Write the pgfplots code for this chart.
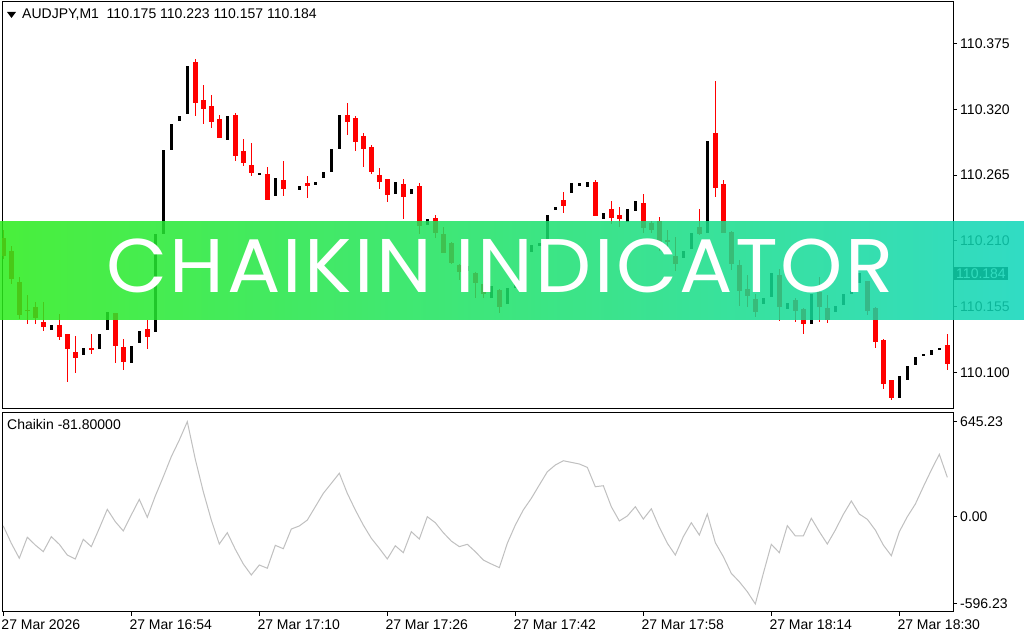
\documentclass[border=0pt]{standalone}
\usepackage{fontspec}
\setmainfont{Liberation Sans}
\newfontfamily\bannerfont[LetterSpace=3.0]{Poppins}
\usepackage{pgfplots}
\usepackage{pgfplotstable}
\pgfplotsset{compat=1.18}
\definecolor{bannerL}{RGB}{42,237,26}
\definecolor{bannerR}{RGB}{14,214,186}
\definecolor{chk}{RGB}{192,192,192}
\definecolor{mtred}{RGB}{255,0,0}

% bearish candles: index open high low close
\pgfplotstableread{
i o h l c
0 110.213 110.220 110.196 110.198
1 110.202 110.207 110.175 110.179
2 110.177 110.181 110.146 110.150
3 110.153 110.166 110.142 110.152
4 110.155 110.160 110.142 110.146
5 110.142 110.160 110.136 110.138
7 110.140 110.150 110.128 110.130
8 110.132 110.132 110.092 110.120
9 110.118 110.132 110.101 110.113
11 110.121 110.133 110.116 110.119
14 110.150 110.150 110.108 110.123
15 110.123 110.129 110.103 110.110
18 110.138 110.145 110.121 110.131
24 110.360 110.362 110.315 110.326
25 110.328 110.342 110.309 110.321
26 110.324 110.332 110.304 110.311
27 110.313 110.316 110.297 110.297
29 110.317 110.317 110.277 110.282
30 110.285 110.296 110.273 110.275
31 110.274 110.293 110.266 110.268
33 110.267 110.273 110.245 110.245
35 110.261 110.276 110.247 110.253
38 110.258 110.266 110.247 110.256
43 110.316 110.326 110.299 110.310
44 110.313 110.315 110.286 110.293
45 110.298 110.301 110.273 110.287
46 110.289 110.291 110.266 110.268
47 110.266 110.271 110.253 110.260
48 110.262 110.262 110.243 110.249
50 110.259 110.263 110.229 110.248
52 110.256 110.260 110.217 110.223
54 110.230 110.232 110.213 110.218
55 110.217 110.222 110.201 110.201
56 110.209 110.210 110.191 110.193
57 110.191 110.191 110.177 110.185
59 110.184 110.184 110.162 110.175
60 110.175 110.182 110.162 110.167
62 110.170 110.170 110.150 110.156
70 110.245 110.251 110.233 110.240
74 110.260 110.261 110.232 110.232
76 110.238 110.245 110.226 110.230
77 110.232 110.239 110.222 110.228
80 110.243 110.250 110.217 110.222
81 110.226 110.228 110.218 110.220
82 110.227 110.230 110.202 110.205
83 110.212 110.220 110.202 110.210
84 110.199 110.213 110.185 110.192
87 110.223 110.238 110.216 110.217
89 110.300 110.344 110.247 110.254
90 110.258 110.261 110.217 110.217
91 110.218 110.220 110.187 110.191
92 110.191 110.194 110.156 110.170
93 110.170 110.183 110.156 110.164
94 110.163 110.167 110.148 110.152
97 110.182 110.187 110.144 110.155
99 110.161 110.163 110.143 110.152
100 110.155 110.155 110.133 110.142
102 110.167 110.180 110.142 110.155
103 110.155 110.166 110.143 110.145
108 110.177 110.177 110.149 110.152
109 110.154 110.156 110.122 110.126
110 110.128 110.129 110.087 110.091
111 110.094 110.094 110.078 110.079
118 110.124 110.132 110.102 110.108
}\redc

% bullish candles: index open close
\pgfplotstableread{
i o c
6 110.136 110.140
10 110.116 110.122
12 110.120 110.132
13 110.135 110.150
16 110.109 110.123
17 110.126 110.136
19 110.134 110.216
20 110.217 110.287
21 110.286 110.308
22 110.310 110.314
23 110.317 110.357
28 110.295 110.315
32 110.266 110.268
34 110.248 110.263
37 110.253 110.256
39 110.258 110.261
40 110.263 110.268
41 110.268 110.287
42 110.287 110.316
49 110.249 110.259
51 110.250 110.254
53 110.225 110.230
58 110.186 110.190
61 110.162 110.172
63 110.157 110.171
64 110.172 110.176
65 110.177 110.201
66 110.201 110.207
67 110.206 110.209
68 110.213 110.233
69 110.236 110.239
71 110.250 110.258
72 110.257 110.259
73 110.256 110.260
75 110.230 110.235
78 110.227 110.238
79 110.236 110.244
85 110.197 110.203
86 110.204 110.218
88 110.218 110.295
95 110.157 110.162
96 110.163 110.183
98 110.155 110.160
101 110.141 110.166
104 110.152 110.157
105 110.157 110.166
106 110.166 110.169
107 110.175 110.184
112 110.079 110.097
113 110.095 110.107
114 110.107 110.114
115 110.116 110.117
116 110.116 110.120
117 110.120 110.121
}\blackc

\begin{document}
\begin{tikzpicture}[x=1bp,y=1bp]
\useasboundingbox (0,0) rectangle (1024,640);
\fill[white] (0,0) rectangle (1024,640);

% ---------- price panel ----------
\begin{axis}[
  at={(2bp,231bp)}, anchor=south west, scale only axis,
  width=951bp, height=407bp,
  xmin=-0.1625, xmax=118.71, ymin=110.0697, ymax=110.4095,
  axis line style={black, line width=1bp},
  xtick=\empty,
  ytick={110.100,110.155,110.210,110.265,110.320,110.375},
  yticklabels={110.100,110.155,110.210,110.265,110.320,110.375},
  ytick pos=right, yticklabel pos=right,
  tick align=outside, major tick length=4bp,
  tick style={black, line width=1bp},
  yticklabel style={font=\fontsize{14bp}{16bp}\selectfont, anchor=west, inner sep=0pt, xshift=3bp},
  clip mode=individual,
]
\addplot[draw=none, mark=none, forget plot,
  error bars/.cd, y dir=both, y explicit, error mark=none,
  error bar style={draw=mtred, line width=1bp}]
  table[x=i, y expr={(\thisrow{h}+\thisrow{l})/2}, y error expr={(\thisrow{h}-\thisrow{l})/2}] {\redc};
\addplot[draw=none, mark=none, forget plot,
  error bars/.cd, y dir=both, y explicit, error mark=none,
  error bar style={draw=mtred, line width=5bp}]
  table[x=i, y expr={(\thisrow{o}+\thisrow{c})/2}, y error expr={(\thisrow{o}-\thisrow{c})/2}] {\redc};
\addplot[draw=none, mark=none, forget plot,
  error bars/.cd, y dir=both, y explicit, error mark=none,
  error bar style={draw=black, line width=3bp}]
  table[x=i, y expr={(\thisrow{o}+\thisrow{c})/2}, y error expr={(\thisrow{c}-\thisrow{o})/2}] {\blackc};
\node[fill=black, text=white, anchor=west, inner xsep=2bp, inner ysep=1.5bp,
  font=\fontsize{14bp}{16bp}\selectfont]
  at ({rel axis cs:1,0} |- {axis cs:0,110.183}) [xshift=1bp] {110.184};
\end{axis}

% ---------- Chaikin panel ----------
\begin{axis}[
  at={(2bp,28bp)}, anchor=south west, scale only axis,
  width=951bp, height=200bp,
  xmin=-0.1625, xmax=118.71, ymin=-651, ymax=711,
  axis line style={black, line width=1bp},
  xtick={0,16,32,48,64,80,96,112},
  xticklabels={27 Mar 2026,27 Mar 16:54,27 Mar 17:10,27 Mar 17:26,27 Mar 17:42,27 Mar 17:58,27 Mar 18:14,27 Mar 18:30},
  xtick pos=bottom, xticklabel pos=bottom,
  xticklabel style={font=\fontsize{14bp}{16bp}\selectfont, anchor=north west, inner sep=0pt, xshift=-2bp, yshift=-4bp},
  ytick={-596.23,0,645.23},
  yticklabels={-596.23,0.00,645.23},
  ytick pos=right, yticklabel pos=right,
  tick align=outside, major tick length=4bp,
  tick style={black, line width=1bp},
  yticklabel style={font=\fontsize{14bp}{16bp}\selectfont, anchor=west, inner sep=0pt, xshift=3bp},
  clip mode=individual,
]
\addplot[chk, line width=1bp, mark=none] coordinates {
(0,-65) (1,-183) (2,-285) (3,-142) (4,-195) (5,-240) (6,-138) (7,-190) (8,-263) (9,-290)
(10,-156) (11,-206) (12,-81) (13,48) (14,-36) (15,-99) (16,10) (17,116) (18,-6) (19,139)
(20,270) (21,407) (22,520) (23,645.23) (24,389) (25,168) (26,-25) (27,-188) (28,-111) (29,-224)
(30,-324) (31,-399) (32,-331) (33,-353) (34,-197) (35,-220) (36,-86) (37,-65) (38,-25) (39,66)
(40,157) (41,225) (42,294) (43,157) (44,44) (45,-59) (46,-149) (47,-217) (48,-290) (49,-200)
(50,-247) (51,-104) (52,-154) (53,-2) (54,-43) (55,-111) (56,-168) (57,-206) (58,-190) (59,-240)
(60,-297) (61,-324) (62,-349) (63,-183) (64,-59) (65,44) (66,123) (67,214) (68,304) (69,350)
(70,379) (71,368) (72,357) (73,334) (74,202) (75,209) (76,66) (77,-31) (78,3) (79,66)
(80,-18) (81,52) (82,-74) (83,-183) (84,-263) (85,-138) (86,-43) (87,-127) (88,16) (89,-179)
(90,-274) (91,-388) (92,-445) (93,-513) (94,-596.23) (95,-388) (96,-190) (97,-247) (98,-63) (99,-133)
(100,-133) (101,-13) (102,-104) (103,-188) (104,-93) (105,14) (106,105) (107,16) (108,-20) (109,-93)
(110,-195) (111,-268) (112,-104) (113,-2) (114,84) (115,202) (116,316) (117,423) (118,266)
};
\node[anchor=west, inner sep=0pt, font=\fontsize{14bp}{16bp}\selectfont]
  at (rel axis cs:0,1) [xshift=5bp, yshift=-12bp] {Chaikin -81.80000};
\end{axis}

% header
\fill (7,628) -- (16,628) -- (11.5,622) -- cycle;
\node[anchor=west, inner sep=0pt, font=\fontsize{14bp}{16bp}\selectfont] at (22,625)
  {AUDJPY,M1\ \ 110.175 110.223 110.157 110.184};

% banner
\shade[left color=bannerL, right color=bannerR, opacity=0.85] (0,320) rectangle (1024,418);
\node[anchor=base, inner sep=0pt, text=white] at (500,347)
  {\scalebox{1.043}[1]{\bannerfont\fontsize{76bp}{76bp}\selectfont CHAIKIN INDICATOR}};
\end{tikzpicture}
\end{document}
